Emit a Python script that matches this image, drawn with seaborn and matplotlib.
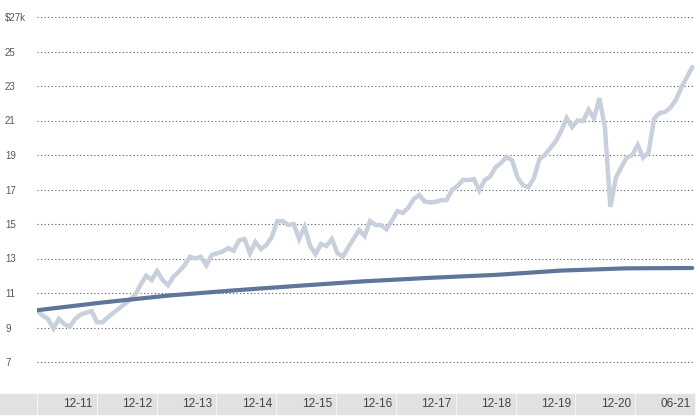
import matplotlib
matplotlib.use("Agg")
import matplotlib.pyplot as plt
from matplotlib.patches import Rectangle
import seaborn as sns
import pandas as pd
import numpy as np

# monthly values of a $10k investment, month 0 = start
fund = [10.0, 9.7, 9.5, 8.95, 9.5, 9.2, 9.05, 9.5, 9.75, 9.85,
        9.95, 9.3, 9.3, 9.6, 9.85, 10.1, 10.35, 10.6, 10.9, 11.5,
        12.0, 11.75, 12.28, 11.75, 11.45, 11.95, 12.25, 12.6, 13.1, 13.0,
        13.1, 12.6, 13.2, 13.3, 13.4, 13.6, 13.45, 14.05, 14.13, 13.3,
        13.96, 13.55, 13.78, 14.25, 15.17, 15.17, 14.95, 15.0, 14.13, 14.83,
        13.75, 13.26, 13.84, 13.73, 14.13, 13.32, 13.1, 13.65, 14.15, 14.65,
        14.3, 15.17, 14.94, 14.94, 14.7, 15.2, 15.75, 15.64, 15.95, 16.45,
        16.68, 16.3, 16.25, 16.28, 16.38, 16.39, 16.97, 17.2, 17.55, 17.55,
        17.6, 16.95, 17.55, 17.75, 18.3, 18.55, 18.88, 18.7, 17.7, 17.25,
        17.14, 17.67, 18.75, 19.0, 19.4, 19.8, 20.4, 21.14, 20.62, 21.0,
        20.97, 21.62, 21.14, 22.3, 20.6, 16.0, 17.67, 18.3, 18.85, 19.0,
        19.58, 18.85, 19.15, 21.1, 21.43, 21.49, 21.75, 22.2, 22.9, 23.5,
        24.1]
fund_months = list(range(len(fund)))

# benchmark read once a year
bench_months = [0, 12, 24, 36, 48, 60, 72, 84, 96, 108, 120]
bench = [10.0, 10.45, 10.85, 11.15, 11.42, 11.68, 11.88, 12.05, 12.3, 12.43, 12.45]

y_ticks = [7, 9, 11, 13, 15, 17, 19, 21, 23, 25, 27]
y_labels = ["7", "9", "11", "13", "15", "17", "19", "21", "23", "25", "$27k"]
x_labels = ["12-11", "12-12", "12-13", "12-14", "12-15", "12-16",
            "12-17", "12-18", "12-19", "12-20", "06-21"]

sns.set_style("white")
plt.rcParams["font.family"] = ["Liberation Sans Narrow", "Liberation Sans", "DejaVu Sans"]

W, H = 700, 416
fig = plt.figure(figsize=(W / 100, H / 100), dpi=100)
left_px, right_px = 37, 695
top_px, bot_px = 10, 390
ax = fig.add_axes([left_px / W, (H - bot_px) / H,
                   (right_px - left_px) / W, (bot_px - top_px) / H])

df_fund = pd.DataFrame({"month": fund_months, "value": fund})
df_bench = pd.DataFrame({"month": bench_months, "value": bench})

sns.lineplot(data=df_fund, x="month", y="value", ax=ax, color="#c7d0dc",
             linewidth=3.2, solid_joinstyle="miter", zorder=3)
sns.lineplot(data=df_bench, x="month", y="value", ax=ax, color="#5f7599",
             linewidth=3.0, zorder=4)

ax.set_xlim(0, 120.5)
ax.set_ylim(7 - 28 / 17.25, 27 + 7 / 17.25)
ax.set_xticks([])
ax.set_xlabel("")
ax.set_ylabel("")
ax.set_yticks(y_ticks)
ax.set_yticklabels(y_labels)
ax.tick_params(axis="y", length=0, pad=23, labelsize=7, labelcolor="#555555")
for lab in ax.get_yticklabels():
    lab.set_ha("left")
for v in y_ticks:
    ax.axhline(v, color="#555555", linestyle=(0, (1, 2.2)), linewidth=0.8, zorder=1)
for s in ax.spines.values():
    s.set_visible(False)

# category boxes along the bottom
box_y0, box_y1 = 394, 414
fig.patches.append(Rectangle((0, (H - box_y1) / H), 36 / W, (box_y1 - box_y0) / H,
                             transform=fig.transFigure, color="#e1e1e1", zorder=0))
step = (right_px - left_px) / len(x_labels)
for i, lab in enumerate(x_labels):
    x0 = left_px + i * step + 1
    x1 = left_px + (i + 1) * step - 1
    fig.patches.append(Rectangle((x0 / W, (H - box_y1) / H), (x1 - x0) / W,
                                 (box_y1 - box_y0) / H, transform=fig.transFigure,
                                 color="#e1e1e1", zorder=0))
    fig.text((x1 - 3) / W, (H - (box_y0 + box_y1) / 2) / H, lab, ha="right",
             va="center", fontsize=8.5, color="#444444")

fig.savefig("out.png", dpi=100)
